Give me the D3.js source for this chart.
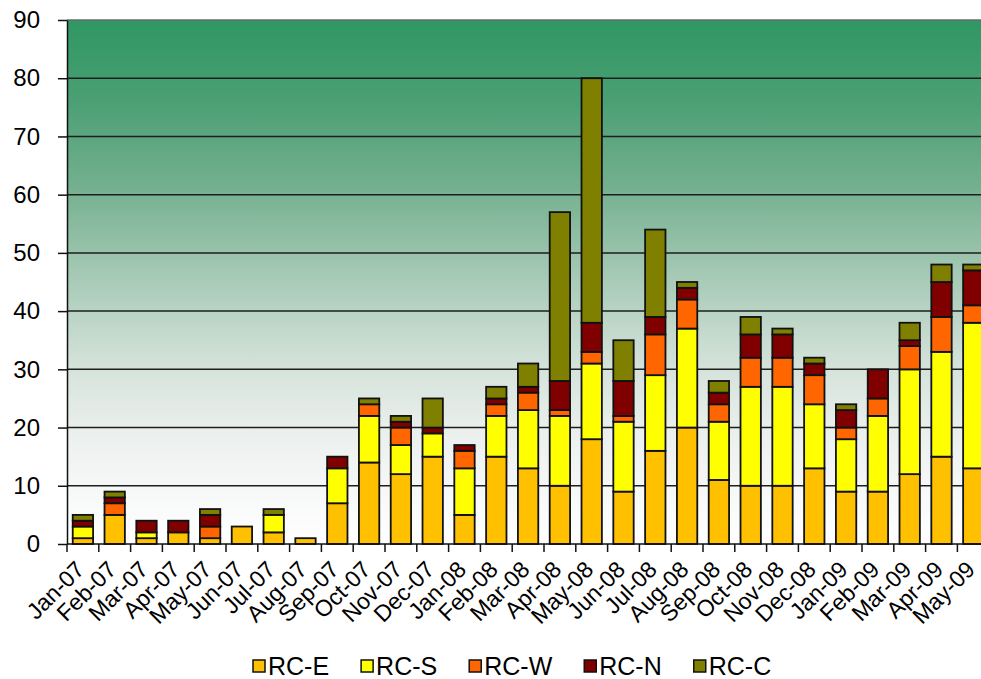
<!DOCTYPE html>
<html>
<head>
<meta charset="utf-8">
<script src="https://cdn.jsdelivr.net/npm/d3@7"></script>
<style>
  html, body { margin: 0; padding: 0; background: #ffffff; overflow: hidden; }
  svg { display: block; font-family: "Liberation Sans", Arial, sans-serif; }
</style>
</head>
<body>
<svg id="chart" width="981" height="679"></svg>
<script>
// Monthly incident counts per regional command
const months = ["Jan-07","Feb-07","Mar-07","Apr-07","May-07","Jun-07","Jul-07","Aug-07","Sep-07","Oct-07","Nov-07","Dec-07",
                "Jan-08","Feb-08","Mar-08","Apr-08","May-08","Jun-08","Jul-08","Aug-08","Sep-08","Oct-08","Nov-08","Dec-08",
                "Jan-09","Feb-09","Mar-09","Apr-09","May-09"];
const rcE = [1,5,1,2,1,3,2,1,7,14,12,15,5,15,13,10,18,9,16,20,11,10,10,13,9,9,12,15,13];
const rcS = [2,0,1,0,0,0,3,0,6,8,5,4,8,7,10,12,13,12,13,17,10,17,17,11,9,13,18,18,25];
const rcW = [0,2,0,0,2,0,0,0,0,2,3,0,3,2,3,1,2,1,7,5,3,5,5,5,2,3,4,6,3];
const rcN = [1,1,2,2,2,0,0,0,2,0,1,1,1,1,1,5,5,6,3,2,2,4,4,2,3,5,1,6,6];
const rcC = [1,1,0,0,1,0,1,0,0,1,1,5,0,2,4,29,42,7,15,1,2,3,1,1,1,0,3,3,1];
const seriesNames = ["RC-E","RC-S","RC-W","RC-N","RC-C"];
const seriesColors = ["#ffc000","#ffff00","#ff6600","#800000","#808000"];
const yTicks = [0,10,20,30,40,50,60,70,80,90];

const rows = months.map((m, i) => ({
  month: m, "RC-E": rcE[i], "RC-S": rcS[i], "RC-W": rcW[i], "RC-N": rcN[i], "RC-C": rcC[i]
}));

const svg = d3.select("#chart");
const plot = { left: 67, top: 20, bottom: 544, band: 31.8 };
const plotRight = plot.left + plot.band * months.length;

const x = d3.scaleBand().domain(months).range([plot.left, plotRight]).paddingInner(0.36).paddingOuter(0.18);
const y = d3.scaleLinear().domain([0, 90]).range([plot.bottom, plot.top]);
const color = d3.scaleOrdinal().domain(seriesNames).range(seriesColors);

// Plot-area background: green fading to white
const defs = svg.append("defs");
const grad = defs.append("linearGradient").attr("id", "bg").attr("x1", 0).attr("y1", 0).attr("x2", 0).attr("y2", 1);
[[0, "#2f9763"], [0.15, "#4a9f73"], [0.32, "#74b08f"], [0.5, "#a9cbb8"], [0.65, "#d2e1d8"],
 [0.78, "#eaefec"], [0.9, "#f7f8f8"], [1, "#ffffff"]].forEach(([o, c]) =>
  grad.append("stop").attr("offset", o).attr("stop-color", c));

svg.append("rect")
  .attr("x", plot.left).attr("y", plot.top)
  .attr("width", plotRight - plot.left).attr("height", plot.bottom - plot.top)
  .attr("fill", "url(#bg)");

// Horizontal gridlines
svg.append("g").selectAll("line").data(yTicks.filter(t => t > 0)).join("line")
  .attr("x1", plot.left).attr("x2", plotRight)
  .attr("y1", d => y(d)).attr("y2", d => y(d))
  .attr("stroke", d => d === 90 ? "#6a6a6a" : "#1e1e1e").attr("stroke-width", 1.5);

// Stacked bars
const stack = d3.stack().keys(seriesNames);
const layers = stack(rows);
svg.append("g").selectAll("g").data(layers).join("g")
  .attr("fill", d => color(d.key))
  .selectAll("rect").data(d => d.filter(s => s[1] - s[0] > 0)).join("rect")
  .attr("x", d => x(d.data.month))
  .attr("width", x.bandwidth())
  .attr("y", d => y(d[1]))
  .attr("height", d => y(d[0]) - y(d[1]))
  .attr("stroke", "#111").attr("stroke-width", 1.8);

// Y axis
const yAxis = d3.axisLeft(y).tickValues(yTicks).tickSize(9).tickPadding(18).tickSizeOuter(0);
const gy = svg.append("g").attr("transform", `translate(${plot.left},0)`).call(yAxis);
gy.select(".domain").attr("stroke", "#111").attr("stroke-width", 1.5);
gy.selectAll(".tick line").attr("stroke", "#111").attr("stroke-width", 1.5);
gy.selectAll(".tick text").attr("font-size", 24).attr("fill", "#000")
  .attr("font-family", "'Liberation Sans', Arial, sans-serif");

// X axis with tick marks at category boundaries
svg.append("line").attr("x1", plot.left).attr("x2", plotRight)
  .attr("y1", plot.bottom).attr("y2", plot.bottom).attr("stroke", "#111").attr("stroke-width", 1.5);
const boundaries = d3.range(months.length + 1).map(i => plot.left + i * x.step());
svg.append("g").selectAll("line").data(boundaries).join("line")
  .attr("x1", d => d).attr("x2", d => d)
  .attr("y1", plot.bottom).attr("y2", plot.bottom + 8)
  .attr("stroke", "#111").attr("stroke-width", 1.5);

svg.append("g").selectAll("text").data(months).join("text")
  .attr("transform", d => `translate(${x(d) + x.bandwidth() / 2 + 3},${plot.bottom + 27}) rotate(-45)`)
  .attr("text-anchor", "end")
  .attr("font-size", 23)
  .attr("fill", "#000")
  .text(d => d);

// Legend, laid out left to right
const legend = svg.append("g").attr("transform", "translate(253,664)");
let lx = 0;
seriesNames.forEach(name => {
  const g = legend.append("g").attr("transform", `translate(${lx},0)`);
  g.append("rect").attr("x", 0).attr("y", -4).attr("width", 12).attr("height", 12)
    .attr("fill", color(name)).attr("stroke", "#111").attr("stroke-width", 1.5);
  const t = g.append("text").attr("x", 15).attr("y", 11).attr("font-size", 25).attr("fill", "#000").text(name);
  lx += 15 + t.node().getComputedTextLength() + 32;
});
</script>
</body>
</html>
